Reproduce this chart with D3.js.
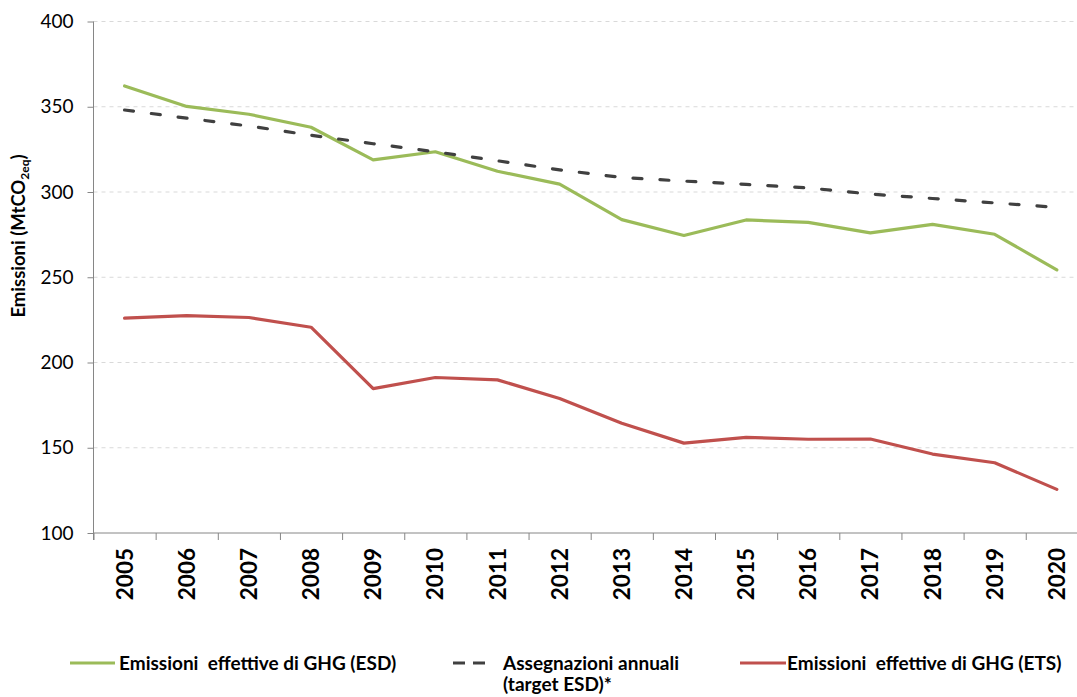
<!DOCTYPE html>
<html>
<head>
<meta charset="utf-8">
<script src="https://cdn.jsdelivr.net/npm/d3@7"></script>
<style>
  body { margin: 0; background: #fff; }
  svg { display: block; font-family: Lato, "Open Sans", sans-serif; }
</style>
</head>
<body>
<script>
const years = ["2005","2006","2007","2008","2009","2010","2011","2012","2013","2014","2015","2016","2017","2018","2019","2020"];
const esd = [362.2, 350.2, 345.6, 338.0, 318.8, 323.6, 312.2, 304.6, 283.8, 274.5, 283.6, 282.2, 276.0, 281.0, 275.2, 254.3];
const target = [348.1, 343.3, 338.7, 333.3, 328.3, 323.6, 318.3, 313.0, 308.5, 306.4, 304.5, 302.4, 298.8, 296.2, 293.6, 291.0];
const ets = [226.0, 227.5, 226.4, 220.7, 184.7, 191.2, 189.8, 178.9, 164.4, 152.7, 156.1, 155.0, 155.1, 146.3, 141.2, 125.6];
const yTicks = [100, 150, 200, 250, 300, 350, 400];

const width = 1077, height = 697;
const svg = d3.select("body").append("svg")
  .attr("width", width)
  .attr("height", height);

const x = d3.scaleBand().domain(years).range([93.5, 93.5 + 16 * 62.15]);
const y = d3.scaleLinear().domain([100, 400]).range([533, 21.5]);
const cx = d => x(d) + x.bandwidth() / 2;

// gridlines
svg.append("g")
  .selectAll("line")
  .data(yTicks.filter(d => d > 100))
  .join("line")
  .attr("x1", 93.5).attr("x2", width)
  .attr("y1", d => y(d)).attr("y2", d => y(d))
  .attr("stroke", "#d9d9d9")
  .attr("stroke-width", 1)
  .attr("stroke-dasharray", "4,4");

// y axis
const yAxis = svg.append("g")
  .attr("transform", "translate(93.5,0)")
  .call(d3.axisLeft(y).tickValues(yTicks).tickSize(6).tickPadding(14).tickSizeOuter(0));
yAxis.select(".domain").attr("stroke", "#868686").attr("d", `M0,${y(400)}V540`);
yAxis.selectAll(".tick line").attr("stroke", "#868686");
yAxis.selectAll(".tick text")
  .attr("font-size", 19)
  .attr("font-family", "Lato, sans-serif")
  .attr("fill", "#000");

// x axis
const xAxis = svg.append("g")
  .attr("transform", "translate(0,533)")
  .call(d3.axisBottom(x).tickSize(0).tickSizeOuter(0));
xAxis.select(".domain").attr("stroke", "#868686").attr("d", `M93.5,0H${width}`);
xAxis.selectAll(".tick text")
  .attr("transform", "rotate(-90)")
  .attr("text-anchor", "end")
  .attr("x", -15)
  .attr("y", 0)
  .attr("dy", "0.36em")
  .attr("font-size", 22.5)
  .attr("font-weight", "bold")
  .attr("font-family", "Lato, sans-serif")
  .attr("fill", "#000");
xAxis.append("g")
  .selectAll("line")
  .data(years)
  .join("line")
  .attr("x1", d => x(d) + 0.5).attr("x2", d => x(d) + 0.5)
  .attr("y1", 0).attr("y2", 7)
  .attr("stroke", "#868686");

// y title
const yTitle = svg.append("text")
  .attr("transform", "translate(25,236) rotate(-90)")
  .attr("text-anchor", "middle")
  .attr("font-size", 18.5)
  .attr("font-weight", "bold")
  .attr("fill", "#000");
yTitle.append("tspan").text("Emissioni (MtCO");
yTitle.append("tspan").text("2eq").attr("font-size", 12).attr("dy", 4);
yTitle.append("tspan").text(")").attr("dy", -4);

// lines
const line = d3.line().x((d, i) => cx(years[i])).y(d => y(d));
svg.append("path").datum(esd)
  .attr("d", line).attr("fill", "none")
  .attr("stroke", "#9bbb59").attr("stroke-width", 3.2)
  .attr("stroke-linejoin", "round").attr("stroke-linecap", "round");
svg.append("path").datum(ets)
  .attr("d", line).attr("fill", "none")
  .attr("stroke", "#c0504d").attr("stroke-width", 3.2)
  .attr("stroke-linejoin", "round").attr("stroke-linecap", "round");
svg.append("path").datum(target)
  .attr("d", line).attr("fill", "none")
  .attr("stroke", "#404040").attr("stroke-width", 3.2)
  .attr("stroke-dasharray", "9,18")
  .attr("stroke-linecap", "round");

// legend
const legend = svg.append("g").attr("font-size", 19).attr("font-weight", "bold");
const items = [
  {x1: 70, x2: 115, tx: 119, color: "#9bbb59", dash: null, lines: ["Emissioni  effettive di GHG (ESD)"]},
  {x1: 453, x2: 486, tx: 503, color: "#404040", dash: "12,8", lines: ["Assegnazioni annuali", "(target ESD)*"]},
  {x1: 740, x2: 786, tx: 787, color: "#c0504d", dash: null, lines: ["Emissioni  effettive di GHG (ETS)"]}
];
items.forEach(it => {
  legend.append("line")
    .attr("x1", it.x1).attr("x2", it.x2)
    .attr("y1", 663).attr("y2", 663)
    .attr("stroke", it.color).attr("stroke-width", 3.2)
    .attr("stroke-dasharray", it.dash);
  it.lines.forEach((t, j) => {
    legend.append("text")
      .attr("x", it.tx)
      .attr("y", 669.5 + j * 21.5)
      .style("white-space", "pre")
      .attr("fill", "#000")
      .text(t);
  });
});
</script>
</body>
</html>
